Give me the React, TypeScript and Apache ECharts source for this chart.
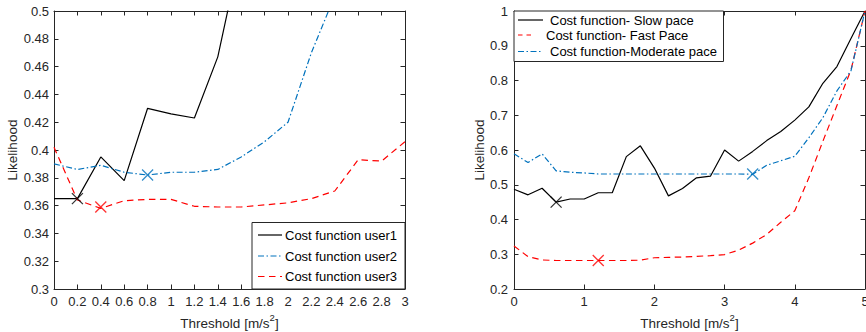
import React, { useEffect, useRef } from "react";
import * as echarts from "echarts";

// ---------- data ----------
const X_LEFT = [0, 0.2, 0.4, 0.6, 0.8, 1, 1.2, 1.4, 1.6, 1.8, 2, 2.2, 2.4, 2.6, 2.8, 3];
const USER1 = [0.365, 0.365, 0.395, 0.378, 0.43, 0.426, 0.423, 0.467, 0.545];
const USER2 = [0.39, 0.386, 0.389, 0.384, 0.382, 0.384, 0.384, 0.386, 0.395, 0.406, 0.42, 0.47, 0.511];
const USER3 = [0.402, 0.364, 0.358, 0.3635, 0.3645, 0.3645, 0.3595, 0.359, 0.359, 0.3605, 0.362, 0.365, 0.3705, 0.393, 0.392, 0.406];
const MIN_USER1 = [0.2, 0.365];
const MIN_USER2 = [0.8, 0.382];
const MIN_USER3 = [0.4, 0.359];

const X_RIGHT = [0, 0.2, 0.4, 0.6, 0.8, 1, 1.2, 1.4, 1.6, 1.8, 2, 2.2, 2.4, 2.6, 2.8, 3, 3.2, 3.4, 3.6, 3.8, 4, 4.2, 4.4, 4.6, 4.8, 5];
const SLOW = [0.487, 0.471, 0.49, 0.45, 0.459, 0.459, 0.477, 0.477, 0.581, 0.612, 0.548, 0.468, 0.489, 0.52, 0.525, 0.6, 0.568, 0.596, 0.627, 0.653, 0.686, 0.724, 0.792, 0.84, 0.921, 1.0];
const FAST = [0.324, 0.293, 0.2835, 0.282, 0.282, 0.282, 0.282, 0.282, 0.282, 0.283, 0.29, 0.291, 0.292, 0.294, 0.296, 0.299, 0.312, 0.332, 0.357, 0.392, 0.425, 0.52, 0.625, 0.728, 0.83, 1.0];
const MODERATE = [0.589, 0.564, 0.589, 0.54, 0.536, 0.534, 0.531, 0.531, 0.531, 0.531, 0.531, 0.531, 0.531, 0.531, 0.531, 0.531, 0.531, 0.53, 0.556, 0.569, 0.582, 0.635, 0.693, 0.77, 0.828, 1.0];
const MIN_SLOW = [0.6, 0.45];
const MIN_FAST = [1.2, 0.282];
const MIN_MODERATE = [3.4, 0.531];

const LEFT_LEGEND = ["Cost function user1", "Cost function user2", "Cost function user3"];
const RIGHT_LEGEND = ["Cost function- Slow pace", "Cost function- Fast Pace", "Cost function-Moderate pace"];
const X_TITLE = "Threshold [m/s";
const Y_TITLE = "Likelihood";

// ---------- styles ----------
const FONT = "'Liberation Sans', Arial, Helvetica, sans-serif";
const AX = "#262626";
const BLACK = "#000000";
const BLUE = "#0072BD";
const RED = "#FF0000";
const DASH: number[] = [6.5, 4.5];
const DASHDOT: number[] = [6, 2.5, 1.5, 2.5];
const LW = 1.2;
const XMARK = "path://M0,0L10,10M10,0L0,10";

const pairs = (xs: number[], ys: number[]) => ys.map((v, i) => [xs[i], v]);

function baseAxis(extra: any) {
  return {
    type: "value",
    axisLine: { show: true, onZero: false, lineStyle: { color: AX, width: 1 } },
    axisTick: { show: true, inside: true, length: 4.5, lineStyle: { color: AX, width: 1 } },
    splitLine: { show: false },
    axisLabel: { show: false },
    ...extra,
  };
}

function labels(fmt: (v: number) => string, margin: number) {
  return {
    show: true,
    color: AX,
    fontSize: 13,
    fontFamily: FONT,
    margin,
    hideOverlap: false,
    formatter: fmt,
  };
}

const xName = {
  name: `{a|${X_TITLE}}{s|2}{a|]}`,
  nameLocation: "middle",
  nameGap: 15,
  nameTextStyle: {
    rich: {
      a: { fontSize: 13.5, fontFamily: FONT, color: AX, lineHeight: 18, verticalAlign: "bottom" },
      s: { fontSize: 9.5, fontFamily: FONT, color: AX, lineHeight: 18, verticalAlign: "top" },
    },
  },
};

function yName(gap: number) {
  return {
    name: Y_TITLE,
    nameLocation: "middle",
    nameRotate: 90,
    nameGap: gap,
    nameTextStyle: { fontSize: 13.5, fontFamily: FONT, color: AX },
  };
}

function lineSeries(xi: number, yi: number, data: number[][], color: string, type: any) {
  return {
    type: "line",
    xAxisIndex: xi,
    yAxisIndex: yi,
    data,
    symbol: "none",
    showSymbol: false,
    clip: true,
    silent: true,
    lineStyle: { color, width: LW, type },
    z: 3,
  };
}

function markSeries(xi: number, yi: number, pt: number[], color: string) {
  return {
    type: "scatter",
    xAxisIndex: xi,
    yAxisIndex: yi,
    data: [pt],
    symbol: XMARK,
    symbolSize: 11,
    silent: true,
    itemStyle: { color: "none", borderColor: color, borderWidth: 1.3 },
    z: 4,
  };
}

function legendItems(
  box: { x: number; y: number; w: number; h: number },
  items: { text: string; y: number; x0: number; x1: number; tx: number; color: string; dash: any }[]
) {
  const els: any[] = [
    {
      type: "rect",
      z: 100,
      shape: { x: box.x, y: box.y, width: box.w, height: box.h },
      style: { fill: "#ffffff", stroke: AX, lineWidth: 1 },
    },
  ];
  items.forEach((it) => {
    els.push({
      type: "line",
      z: 101,
      shape: { x1: it.x0, y1: it.y, x2: it.x1, y2: it.y },
      style: { stroke: it.color, lineWidth: LW, lineDash: it.dash },
    });
    els.push({
      type: "text",
      z: 101,
      x: it.tx,
      y: it.y,
      style: { text: it.text, fill: "#000", font: `13px ${FONT}`, verticalAlign: "middle", align: "left" },
    });
  });
  return els;
}

export default function App() {
  const ref = useRef<HTMLDivElement>(null);
  useEffect(() => {
    if (!ref.current) return;
    const chart = echarts.init(ref.current, undefined, { renderer: "svg" });
    const option: any = {
      animation: false,
      backgroundColor: "#ffffff",
      grid: [
        { left: 54, top: 11, width: 351, height: 278, outerBoundsMode: "none", containLabel: false },
        { left: 514, top: 11, width: 351, height: 278, outerBoundsMode: "none", containLabel: false },
      ],
      xAxis: [
        baseAxis({
          gridIndex: 0, position: "bottom", min: 0, max: 3, interval: 0.2,
          axisLabel: labels((v: number) => String(+v.toFixed(1)), 6),
          ...xName,
        }),
        baseAxis({ gridIndex: 0, position: "top", min: 0, max: 3, interval: 0.2 }),
        baseAxis({
          gridIndex: 1, position: "bottom", min: 0, max: 5, interval: 1,
          axisLabel: labels((v: number) => String(+v.toFixed(1)), 6),
          ...xName,
        }),
        baseAxis({ gridIndex: 1, position: "top", min: 0, max: 5, interval: 1 }),
      ],
      yAxis: [
        baseAxis({
          gridIndex: 0, position: "left", min: 0.3, max: 0.5, interval: 0.02,
          axisLabel: labels((v: number) => String(+v.toFixed(2)), 5),
          ...yName(34),
        }),
        baseAxis({ gridIndex: 0, position: "right", min: 0.3, max: 0.5, interval: 0.02 }),
        baseAxis({
          gridIndex: 1, position: "left", min: 0.2, max: 1, interval: 0.1,
          axisLabel: labels((v: number) => String(+v.toFixed(1)), 6),
          ...yName(25),
        }),
        baseAxis({ gridIndex: 1, position: "right", min: 0.2, max: 1, interval: 0.1 }),
      ],
      series: [
        lineSeries(0, 0, pairs(X_LEFT, USER1), BLACK, "solid"),
        lineSeries(0, 0, pairs(X_LEFT, USER2), BLUE, DASHDOT),
        lineSeries(0, 0, pairs(X_LEFT, USER3), RED, DASH),
        markSeries(0, 0, MIN_USER1, BLACK),
        markSeries(0, 0, MIN_USER2, BLUE),
        markSeries(0, 0, MIN_USER3, RED),
        lineSeries(2, 2, pairs(X_RIGHT, SLOW), BLACK, "solid"),
        lineSeries(2, 2, pairs(X_RIGHT, FAST), RED, DASH),
        lineSeries(2, 2, pairs(X_RIGHT, MODERATE), BLUE, DASHDOT),
        markSeries(2, 2, MIN_SLOW, BLACK),
        markSeries(2, 2, MIN_FAST, RED),
        markSeries(2, 2, MIN_MODERATE, BLUE),
      ],
      graphic: [
        ...legendItems({ x: 252, y: 222.5, w: 153, h: 66.5 }, [
          { text: LEFT_LEGEND[0], y: 235, x0: 258, x1: 282, tx: 285, color: BLACK, dash: null },
          { text: LEFT_LEGEND[1], y: 256, x0: 258, x1: 282, tx: 285, color: BLUE, dash: DASHDOT },
          { text: LEFT_LEGEND[2], y: 276.5, x0: 258, x1: 282, tx: 285, color: RED, dash: DASH },
        ]),
        ...legendItems({ x: 514, y: 11, w: 209.5, h: 50.5 }, [
          { text: RIGHT_LEGEND[0], y: 20, x0: 518, x1: 543, tx: 550, color: BLACK, dash: null },
          { text: RIGHT_LEGEND[1], y: 35, x0: 518, x1: 531, tx: 546, color: RED, dash: [4.5, 4] },
          { text: RIGHT_LEGEND[2], y: 51.5, x0: 518, x1: 543, tx: 550, color: BLUE, dash: DASHDOT },
        ]),
      ],
    };
    chart.setOption(option);
    return () => chart.dispose();
  }, []);
  return (
    <div
      ref={ref}
      style={{ position: "fixed", left: 0, top: 0, width: 866, height: 332, background: "#fff" }}
    />
  );
}
